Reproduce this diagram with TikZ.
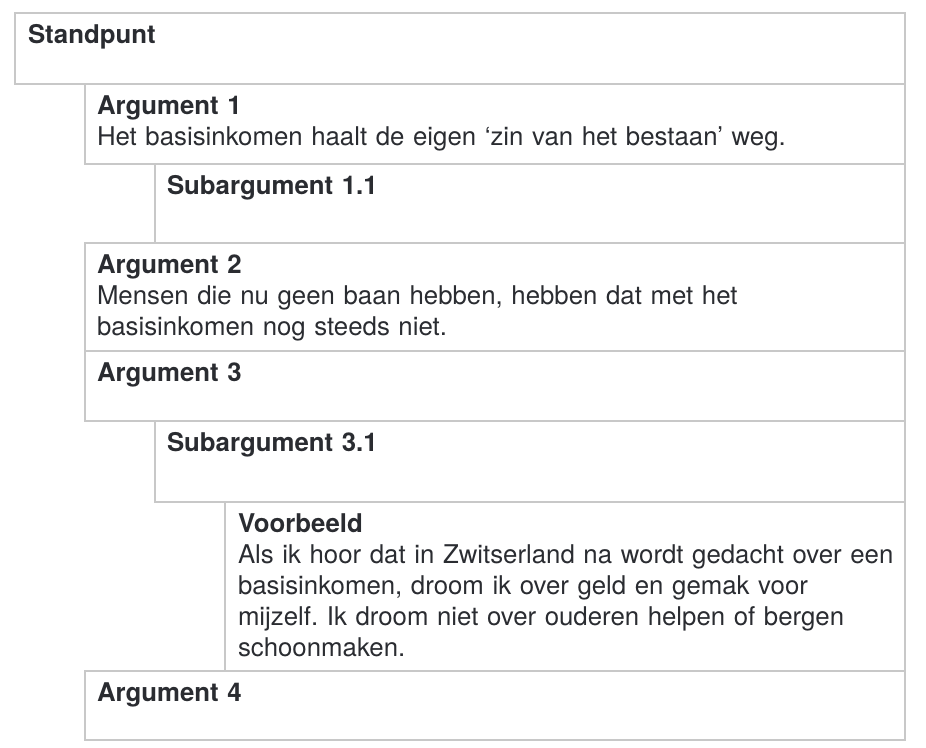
\documentclass[tikz,border=0pt]{standalone}
\usepackage{fontspec}
\setmainfont{TeX Gyre Heros}
\usepackage{xcolor}
\usetikzlibrary{positioning,calc}
\definecolor{rim}{HTML}{C8C8C8}
\definecolor{ink}{HTML}{2A2C31}
\frenchspacing

\begin{document}
\begin{tikzpicture}[x=0.5pt, y=-0.5pt,
    every node/.style={inner sep=0pt, outer sep=0pt},
    box/.style={draw=rim, line width=1pt, rectangle, anchor=north west},
    txt/.style={anchor=base west, text width=#1, align=left, text=ink, font=\fontsize{12.9}{15.5}\selectfont}]
    \useasboundingbox (0,0) rectangle (926,748);

    % the boxes, each one hangs under the one before
    \node[box, minimum width=445pt, minimum height=35.5pt] (stdpt) at (15,13) {};
    \node[box, minimum width=410pt, minimum height=40pt] (arg1) at ([xshift=35pt]stdpt.south west) {};
    \node[box, minimum width=375pt, minimum height=39.5pt] (sub11) at ([xshift=35pt]arg1.south west) {};
    \node[box, minimum width=410pt, minimum height=54pt] (arg2) at ([xshift=-35pt]sub11.south west) {};
    \node[box, minimum width=410pt, minimum height=35pt] (arg3) at (arg2.south west) {};
    \node[box, minimum width=375pt, minimum height=40.5pt] (sub31) at ([xshift=35pt]arg3.south west) {};
    \node[box, minimum width=340pt, minimum height=84.5pt] (vb) at ([xshift=35pt]sub31.south west) {};
    \node[box, minimum width=410pt, minimum height=34.5pt] (arg4) at ([xshift=-70pt]vb.south west) {};

    % the texts
    \node[txt=430pt] (stdpt-t) at ([shift={(6.5pt,-15.25pt)}]stdpt.north west) {\textbf{Standpunt}};
    \node[txt=398pt] (arg1-t) at ([shift={(6pt,-15.25pt)}]arg1.north west) {\textbf{Argument 1}\\Het basisinkomen haalt de eigen ‘zin van het bestaan’ weg.};
    \node[txt=362pt] (sub11-t) at ([shift={(6pt,-15.25pt)}]sub11.north west) {\textbf{Subargument 1.1}};
    \node[txt=398pt] (arg2-t) at ([shift={(6pt,-15.25pt)}]arg2.north west) {\textbf{Argument 2}\\Mensen die nu geen baan hebben, hebben dat met het\\basisinkomen nog steeds niet.};
    \node[txt=398pt] (arg3-t) at ([shift={(6pt,-15.25pt)}]arg3.north west) {\textbf{Argument 3}};
    \node[txt=362pt] (sub31-t) at ([shift={(6pt,-15.25pt)}]sub31.north west) {\textbf{Subargument 3.1}};
    \node[txt=333pt] (vb-t) at ([shift={(6.5pt,-15.25pt)}]vb.north west) {\textbf{Voorbeeld}\\Als ik hoor dat in Zwitserland na wordt gedacht over een\\basisinkomen, droom ik over geld en gemak voor\\mijzelf. Ik droom niet over ouderen helpen of bergen\\schoonmaken.};
    \node[txt=398pt] (arg4-t) at ([shift={(6pt,-15.25pt)}]arg4.north west) {\textbf{Argument 4}};
\end{tikzpicture}
\end{document}
